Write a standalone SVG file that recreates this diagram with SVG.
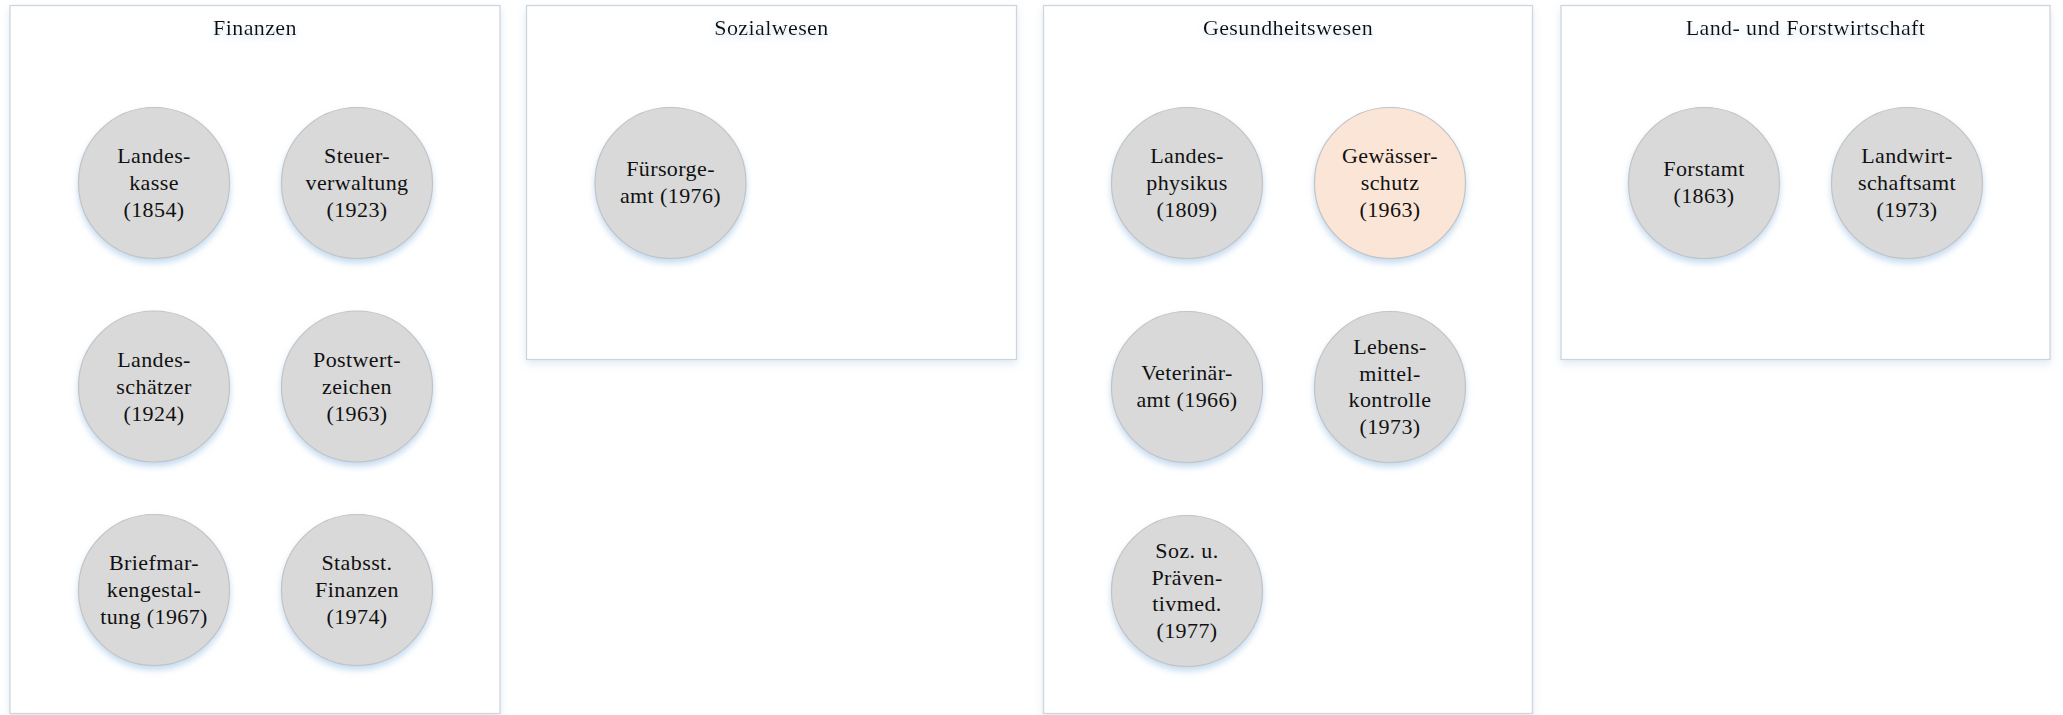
<svg xmlns="http://www.w3.org/2000/svg" width="2063" height="715" viewBox="0 0 2063 715">
<style>
.panel{fill:#ffffff;stroke:#d0d5dc;stroke-width:1.3;filter:url(#pshadow)}
.title{font-family:"Liberation Serif",serif;font-size:22px;letter-spacing:0.4px;fill:#111;text-anchor:middle;filter:url(#tshadow)}
.node{fill:#d9d9d9;stroke:#c3c3c3;stroke-width:1.2;filter:url(#cshadow)}
.hl{fill:#fbe5d6}
.lbl{font-family:"Liberation Serif",serif;font-size:22px;letter-spacing:0.4px;fill:#111;text-anchor:middle}
</style>
<defs>
<filter id="pshadow" x="-5%" y="-5%" width="110%" height="115%">
<feDropShadow dx="0" dy="4" stdDeviation="4" flood-color="#bcd2ea" flood-opacity="0.45"/>
</filter>
<filter id="cshadow" x="-20%" y="-20%" width="140%" height="150%">
<feDropShadow dx="0" dy="4" stdDeviation="3" flood-color="#9dc3e6" flood-opacity="0.6"/>
</filter>
<filter id="tshadow" x="-20%" y="-50%" width="140%" height="220%">
<feDropShadow dx="0" dy="3" stdDeviation="3" flood-color="#bcd2ea" flood-opacity="0.7"/>
</filter>
</defs>
<rect width="2063" height="715" fill="#ffffff"/>

<g id="panel-finanzen">
<rect class="panel" x="10" y="5.5" width="490" height="708"/>
<text class="title" x="255" y="35">Finanzen</text>
</g>
<g id="panel-sozialwesen">
<rect class="panel" x="526.5" y="5.5" width="490" height="354"/>
<text class="title" x="771.5" y="35">Sozialwesen</text>
</g>
<g id="panel-gesundheitswesen">
<rect class="panel" x="1043.5" y="5.5" width="489" height="708"/>
<text class="title" x="1288" y="35">Gesundheitswesen</text>
</g>
<g id="panel-landforst">
<rect class="panel" x="1561" y="5.5" width="489" height="354"/>
<text class="title" x="1805.5" y="35">Land- und Forstwirtschaft</text>
</g>

<g id="connectors"></g>

<g id="n-landeskasse">
<circle class="node" cx="154" cy="183" r="75.5"/>
<text class="lbl" x="154" y="163">Landes-</text><text class="lbl" x="154" y="190">kasse</text><text class="lbl" x="154" y="217">(1854)</text>
</g>
<g id="n-steuerverwaltung">
<circle class="node" cx="357" cy="183" r="75.5"/>
<text class="lbl" x="357" y="163">Steuer-</text><text class="lbl" x="357" y="190">verwaltung</text><text class="lbl" x="357" y="217">(1923)</text>
</g>
<g id="n-landesschaetzer">
<circle class="node" cx="154" cy="386.5" r="75.5"/>
<text class="lbl" x="154" y="366.5">Landes-</text><text class="lbl" x="154" y="393.5">schätzer</text><text class="lbl" x="154" y="420.5">(1924)</text>
</g>
<g id="n-postwertzeichen">
<circle class="node" cx="357" cy="386.5" r="75.5"/>
<text class="lbl" x="357" y="366.5">Postwert-</text><text class="lbl" x="357" y="393.5">zeichen</text><text class="lbl" x="357" y="420.5">(1963)</text>
</g>
<g id="n-briefmarken">
<circle class="node" cx="154" cy="590" r="75.5"/>
<text class="lbl" x="154" y="570">Briefmar-</text><text class="lbl" x="154" y="597">kengestal-</text><text class="lbl" x="154" y="624">tung (1967)</text>
</g>
<g id="n-stabsst">
<circle class="node" cx="357" cy="590" r="75.5"/>
<text class="lbl" x="357" y="570">Stabsst.</text><text class="lbl" x="357" y="597">Finanzen</text><text class="lbl" x="357" y="624">(1974)</text>
</g>

<g id="n-fuersorgeamt">
<circle class="node" cx="670.5" cy="183" r="75.5"/>
<text class="lbl" x="670.5" y="176">Fürsorge-</text><text class="lbl" x="670.5" y="203">amt (1976)</text>
</g>

<g id="n-landesphysikus">
<circle class="node" cx="1187" cy="183" r="75.5"/>
<text class="lbl" x="1187" y="163">Landes-</text><text class="lbl" x="1187" y="190">physikus</text><text class="lbl" x="1187" y="217">(1809)</text>
</g>
<g id="n-gewaesserschutz">
<circle class="node hl" cx="1390" cy="183" r="75.5"/>
<text class="lbl" x="1390" y="163">Gewässer-</text><text class="lbl" x="1390" y="190">schutz</text><text class="lbl" x="1390" y="217">(1963)</text>
</g>
<g id="n-veterinaeramt">
<circle class="node" cx="1187" cy="387" r="75.5"/>
<text class="lbl" x="1187" y="380">Veterinär-</text><text class="lbl" x="1187" y="407">amt (1966)</text>
</g>
<g id="n-lebensmittel">
<circle class="node" cx="1390" cy="387" r="75.5"/>
<text class="lbl" x="1390" y="354">Lebens-</text><text class="lbl" x="1390" y="380.5">mittel-</text><text class="lbl" x="1390" y="407">kontrolle</text><text class="lbl" x="1390" y="433.5">(1973)</text>
</g>
<g id="n-praeventivmed">
<circle class="node" cx="1187" cy="591" r="75.5"/>
<text class="lbl" x="1187" y="558">Soz. u.</text><text class="lbl" x="1187" y="584.5">Präven-</text><text class="lbl" x="1187" y="611">tivmed.</text><text class="lbl" x="1187" y="637.5">(1977)</text>
</g>

<g id="n-forstamt">
<circle class="node" cx="1704" cy="183" r="75.5"/>
<text class="lbl" x="1704" y="176">Forstamt</text><text class="lbl" x="1704" y="203">(1863)</text>
</g>
<g id="n-landwirtschaftsamt">
<circle class="node" cx="1907" cy="183" r="75.5"/>
<text class="lbl" x="1907" y="163">Landwirt-</text><text class="lbl" x="1907" y="190">schaftsamt</text><text class="lbl" x="1907" y="217">(1973)</text>
</g>
</svg>
